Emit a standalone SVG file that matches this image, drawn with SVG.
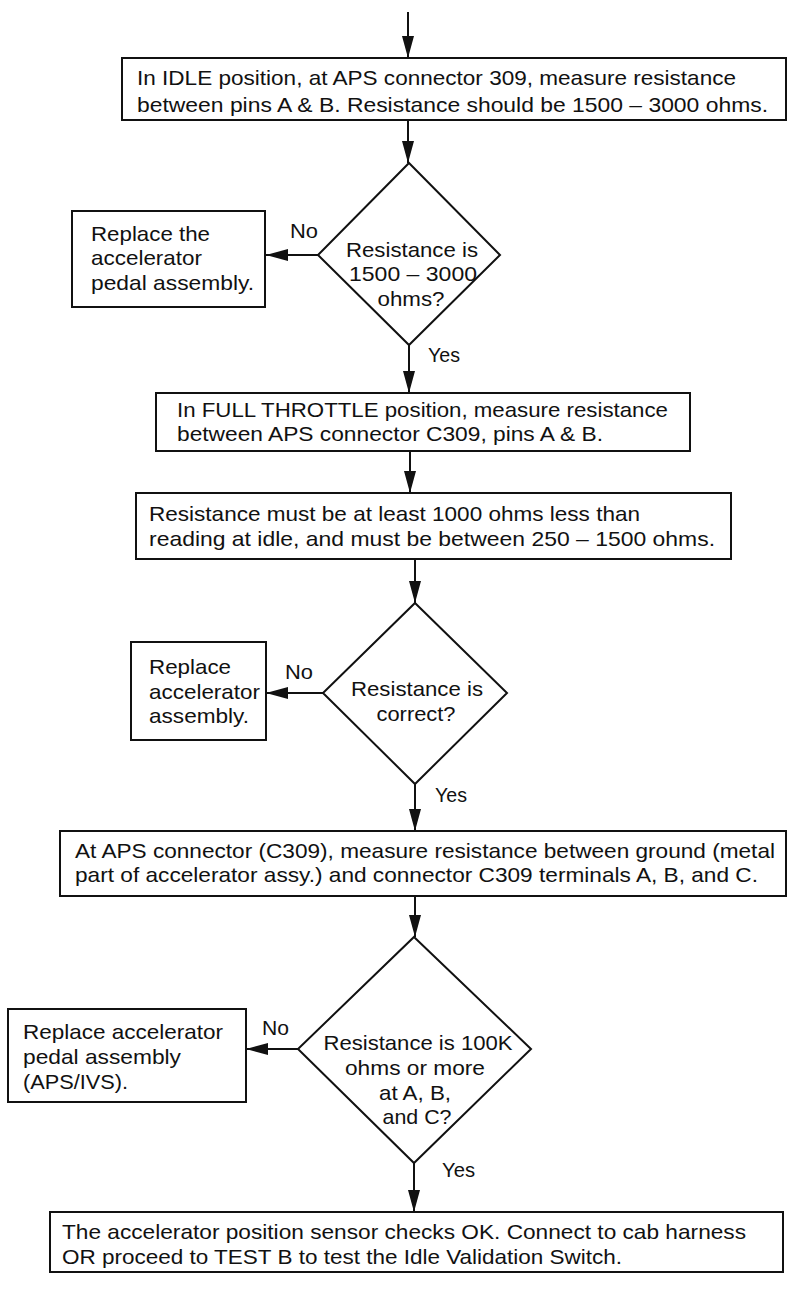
<svg xmlns="http://www.w3.org/2000/svg" width="800" height="1289" viewBox="0 0 800 1289">
  <defs>
    <marker id="arrow" markerUnits="userSpaceOnUse" markerWidth="24" markerHeight="14" refX="22" refY="6" orient="auto">
      <path d="M0,0 L22,6 L0,12 Z" fill="#111"/>
    </marker>
    <style>
      .box { fill: #fff; stroke: #111; stroke-width: 2; }
      .dia { fill: #fff; stroke: #111; stroke-width: 2; }
      .conn { stroke: #111; stroke-width: 2; fill: none; marker-end: url(#arrow); }
      text { font-family: "Liberation Sans", Arial, sans-serif; font-size: 21px; fill: #111; }
      .mid { text-anchor: middle; }
    </style>
  </defs>
  <rect width="800" height="1289" fill="#fff"/>

  <!-- connectors -->
  <g id="connectors">
    <line class="conn" x1="408" y1="12" x2="408" y2="58"/>
    <line class="conn" x1="408" y1="120" x2="408" y2="163"/>
    <line class="conn" x1="318" y1="255" x2="266" y2="255"/>
    <line class="conn" x1="409" y1="345" x2="409" y2="393"/>
    <line class="conn" x1="410" y1="451" x2="410" y2="493"/>
    <line class="conn" x1="415" y1="559" x2="415" y2="603"/>
    <line class="conn" x1="323" y1="693" x2="266" y2="693"/>
    <line class="conn" x1="415" y1="784" x2="415" y2="831"/>
    <line class="conn" x1="415" y1="896" x2="415" y2="937"/>
    <line class="conn" x1="298" y1="1049" x2="246" y2="1049"/>
    <line class="conn" x1="414" y1="1163" x2="414" y2="1212"/>
    <text x="290" y="238" textLength="28" lengthAdjust="spacingAndGlyphs">No</text>
    <text x="428" y="362" textLength="32" lengthAdjust="spacingAndGlyphs">Yes</text>
    <text x="285" y="679" textLength="28" lengthAdjust="spacingAndGlyphs">No</text>
    <text x="435" y="802" textLength="32" lengthAdjust="spacingAndGlyphs">Yes</text>
    <text x="262" y="1035" textLength="27" lengthAdjust="spacingAndGlyphs">No</text>
    <text x="442" y="1177" textLength="33" lengthAdjust="spacingAndGlyphs">Yes</text>
  </g>

  <!-- step: idle resistance -->
  <g id="idle-measure">
    <rect class="box" x="122" y="58" width="664" height="62"/>
    <text x="137" y="85" textLength="599" lengthAdjust="spacingAndGlyphs">In IDLE position, at APS connector 309, measure resistance</text>
    <text x="137" y="112" textLength="631" lengthAdjust="spacingAndGlyphs">between pins A &amp; B. Resistance should be 1500 – 3000 ohms.</text>
  </g>

  <g id="idle-check">
    <polygon class="dia" points="409,163 500,255 409,345 318,255"/>
    <text x="412" y="257" class="mid" textLength="132" lengthAdjust="spacingAndGlyphs">Resistance is</text>
    <text x="413" y="281" class="mid" textLength="128" lengthAdjust="spacingAndGlyphs">1500 – 3000</text>
    <text x="411" y="306" class="mid" textLength="67" lengthAdjust="spacingAndGlyphs">ohms?</text>
  </g>

  <g id="replace-pedal-1">
    <rect class="box" x="72" y="211" width="193" height="96"/>
    <text x="91" y="241" textLength="119" lengthAdjust="spacingAndGlyphs">Replace the</text>
    <text x="91" y="265" textLength="111" lengthAdjust="spacingAndGlyphs">accelerator</text>
    <text x="91" y="290" textLength="163" lengthAdjust="spacingAndGlyphs">pedal assembly.</text>
  </g>

  <!-- step: full throttle resistance -->
  <g id="full-throttle-measure">
    <rect class="box" x="156" y="393" width="534" height="58"/>
    <text x="177" y="417" textLength="491" lengthAdjust="spacingAndGlyphs">In FULL THROTTLE position, measure resistance</text>
    <text x="177" y="441" textLength="426" lengthAdjust="spacingAndGlyphs">between APS connector C309, pins A &amp; B.</text>
  </g>

  <g id="full-throttle-limits">
    <rect class="box" x="136" y="493" width="595" height="66"/>
    <text x="149" y="521" textLength="491" lengthAdjust="spacingAndGlyphs">Resistance must be at least 1000 ohms less than</text>
    <text x="149" y="546" textLength="566" lengthAdjust="spacingAndGlyphs">reading at idle, and must be between 250 – 1500 ohms.</text>
  </g>

  <g id="full-throttle-check">
    <polygon class="dia" points="415,603 507,693 415,784 323,693"/>
    <text x="417" y="696" class="mid" textLength="132" lengthAdjust="spacingAndGlyphs">Resistance is</text>
    <text x="416" y="721" class="mid" textLength="79" lengthAdjust="spacingAndGlyphs">correct?</text>
  </g>

  <g id="replace-pedal-2">
    <rect class="box" x="131" y="642" width="135" height="98"/>
    <text x="149" y="674" textLength="82" lengthAdjust="spacingAndGlyphs">Replace</text>
    <text x="149" y="699" textLength="111" lengthAdjust="spacingAndGlyphs">accelerator</text>
    <text x="149" y="723" textLength="100" lengthAdjust="spacingAndGlyphs">assembly.</text>
  </g>

  <!-- step: insulation to ground -->
  <g id="ground-measure">
    <rect class="box" x="60" y="831" width="726" height="65"/>
    <text x="75" y="858" textLength="700" lengthAdjust="spacingAndGlyphs">At APS connector (C309), measure resistance between ground (metal</text>
    <text x="75" y="882" textLength="683" lengthAdjust="spacingAndGlyphs">part of accelerator assy.) and connector C309 terminals A, B, and C.</text>
  </g>

  <g id="ground-check">
    <polygon class="dia" points="414,937 531,1049 414,1163 298,1049"/>
    <text x="418" y="1050" class="mid" textLength="189" lengthAdjust="spacingAndGlyphs">Resistance is 100K</text>
    <text x="415" y="1075" class="mid" textLength="140" lengthAdjust="spacingAndGlyphs">ohms or more</text>
    <text x="415" y="1100" class="mid" textLength="72" lengthAdjust="spacingAndGlyphs">at A, B,</text>
    <text x="417" y="1124" class="mid" textLength="69" lengthAdjust="spacingAndGlyphs">and C?</text>
  </g>

  <g id="replace-pedal-3">
    <rect class="box" x="8" y="1009" width="238" height="93"/>
    <text x="23" y="1039" textLength="200" lengthAdjust="spacingAndGlyphs">Replace accelerator</text>
    <text x="23" y="1064" textLength="158" lengthAdjust="spacingAndGlyphs">pedal assembly</text>
    <text x="23" y="1089" textLength="105" lengthAdjust="spacingAndGlyphs">(APS/IVS).</text>
  </g>

  <!-- result -->
  <g id="sensor-ok">
    <rect class="box" x="50" y="1212" width="733" height="60"/>
    <text x="62" y="1239" textLength="684" lengthAdjust="spacingAndGlyphs">The accelerator position sensor checks OK. Connect to cab harness</text>
    <text x="62" y="1264" textLength="560" lengthAdjust="spacingAndGlyphs">OR proceed to TEST B to test the Idle Validation Switch.</text>
  </g>
</svg>
